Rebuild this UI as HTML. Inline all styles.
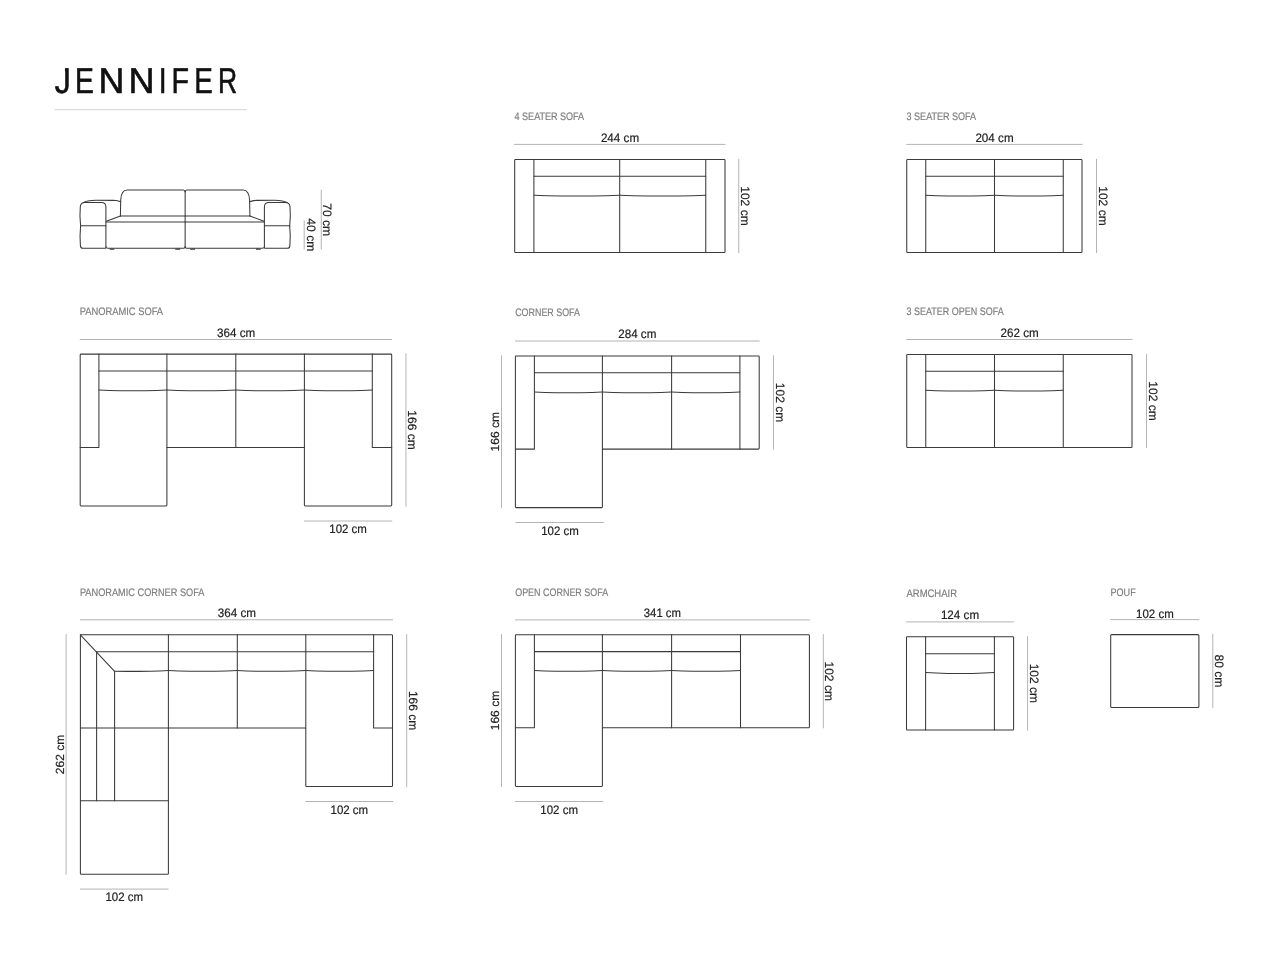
<!DOCTYPE html>
<html lang="en"><head><meta charset="utf-8"><title>JENNIFER</title>
<style>
html,body{margin:0;padding:0;background:#fff;}
body{width:1280px;height:960px;overflow:hidden;font-family:"Liberation Sans",sans-serif;}
svg{display:block;position:absolute;left:0;top:0;will-change:transform;}
.k{fill:none;stroke:#3a3a3a;stroke-width:1.05;stroke-linejoin:round;stroke-linecap:round;}
.g{fill:none;stroke:#b4b4b4;stroke-width:1;}
.u{fill:none;stroke:#dcdcdc;stroke-width:1.2;}
.ft{fill:#3a3a3a;stroke:none;}
text{font-family:"Liberation Sans",sans-serif;text-rendering:geometricPrecision;}
.ttl{font-size:36px;text-rendering:geometricPrecision;fill:#111;stroke:#111;stroke-width:0.6;}
.dm{font-size:12.3px;fill:#222;stroke:#222;stroke-width:0.2;}
.rt{font-size:12.2px;stroke-width:0.18;}
.lt{font-size:11.8px;stroke-width:0.2;}
.lb{font-size:10.9px;fill:#7e7e7e;stroke:#7e7e7e;stroke-width:0.2;}
</style></head><body>
<svg width="1280" height="960" viewBox="0 0 1280 960">
<text class="ttl" y="92.55" aria-label="JENNIFER"><tspan x="54.85" textLength="16.03" lengthAdjust="spacingAndGlyphs">J</tspan><tspan x="74.88" textLength="18.89" lengthAdjust="spacingAndGlyphs">E</tspan><tspan x="98.51" textLength="25.86" lengthAdjust="spacingAndGlyphs">N</tspan><tspan x="128.54" textLength="26.05" lengthAdjust="spacingAndGlyphs">N</tspan><tspan x="158.63" textLength="7.89" lengthAdjust="spacingAndGlyphs">I</tspan><tspan x="171.40" textLength="17.50" lengthAdjust="spacingAndGlyphs">F</tspan><tspan x="194.16" textLength="18.58" lengthAdjust="spacingAndGlyphs">E</tspan><tspan x="218.07" textLength="19.16" lengthAdjust="spacingAndGlyphs">R</tspan></text>
<path class="u" d="M54.60 109.60L246.80 109.60"/>
<rect x="55" y="64" width="9.95" height="9.2" fill="#fff"/>
<path class="k" d="M80.60 225.7 C80.00 220 79.90 211 80.30 206.6 Q80.80 202.5 84.60 202.5 L101.40 202.5 Q105.90 202.5 105.90 207.2 L105.90 247.6"/>
<path class="k" d="M80.60 225.7 C80.00 232 79.90 240 80.40 245.6 Q80.70 248.3 83.00 248.3 L105.50 248.3"/>
<path class="k" d="M80.60 225.70L105.90 225.70"/>
<path class="k" d="M83.20 202.7 Q86.50 200.5 96.00 200.35 L113.50 200.35 Q118.00 200.5 120.60 201.7"/>
<path class="k" d="M120.40 215.9 L120.70 200 Q121.20 190.0 127.20 190.0 L183.20 190.0 Q185.15 190.1 185.15 191.8"/>
<path class="k" d="M120.40 215.90L185.15 215.90"/>
<path class="k" d="M106.30 221.30L120.40 216.00"/>
<path class="k" d="M106.30 221.90L185.15 221.90"/>
<path class="k" d="M105.90 246.8 Q106.00 248.3 108.00 248.3 L183.60 248.3 Q185.15 248.3 185.15 246.8"/>
<rect class="ft" x="109.60" y="248.5" width="4.8" height="1.3" rx="0.5"/>
<rect class="ft" x="175.20" y="248.5" width="5" height="1.3" rx="0.5"/>
<path class="k" d="M289.70 225.7 C290.30 220 290.40 211 290.00 206.6 Q289.50 202.5 285.70 202.5 L268.90 202.5 Q264.40 202.5 264.40 207.2 L264.40 247.6"/>
<path class="k" d="M289.70 225.7 C290.30 232 290.40 240 289.90 245.6 Q289.60 248.3 287.30 248.3 L264.80 248.3"/>
<path class="k" d="M289.70 225.70L264.40 225.70"/>
<path class="k" d="M287.10 202.7 Q283.80 200.5 274.30 200.35 L256.80 200.35 Q252.30 200.5 249.70 201.7"/>
<path class="k" d="M249.90 215.9 L249.60 200 Q249.10 190.0 243.10 190.0 L187.10 190.0 Q185.15 190.1 185.15 191.8"/>
<path class="k" d="M249.90 215.90L185.15 215.90"/>
<path class="k" d="M264.00 221.30L249.90 216.00"/>
<path class="k" d="M264.00 221.90L185.15 221.90"/>
<path class="k" d="M264.40 246.8 Q264.30 248.3 262.30 248.3 L186.70 248.3 Q185.15 248.3 185.15 246.8"/>
<rect class="ft" x="255.90" y="248.5" width="4.8" height="1.3" rx="0.5"/>
<rect class="ft" x="190.10" y="248.5" width="5" height="1.3" rx="0.5"/>
<path class="k" d="M185.15 191.50L185.15 247.40"/>
<path class="g" d="M321.25 189.60L321.25 249.60"/>
<text class="dm rt" transform="translate(323.1 203.2) rotate(90)" textLength="33" lengthAdjust="spacingAndGlyphs">70 cm</text>
<path class="g" d="M304.20 220.40L304.20 249.60"/>
<text class="dm rt" transform="translate(306.8 218.3) rotate(90)" textLength="33.2" lengthAdjust="spacingAndGlyphs">40 cm</text>
<text class="lb" x="514.55" y="120.05" textLength="69.60" lengthAdjust="spacingAndGlyphs">4 SEATER SOFA</text>
<path class="g" d="M513.90 144.40L725.50 144.40"/>
<text class="dm" x="600.90" y="142.20" textLength="38.20" lengthAdjust="spacingAndGlyphs">244 cm</text>
<path class="k" d="M514.70 160.20Q514.70 159.40 515.50 159.40L724.20 159.40Q725.00 159.40 725.00 160.20L725.00 251.70Q725.00 252.50 724.20 252.50L515.50 252.50Q514.70 252.50 514.70 251.70Z"/>
<path class="k" d="M533.90 159.40L533.90 252.50"/>
<path class="k" d="M705.75 159.40L705.75 252.50"/>
<path class="k" d="M619.70 159.40L619.70 252.50"/>
<path class="k" d="M533.90 176.30L705.75 176.30"/>
<path class="k" d="M533.90 195.20C544.88 195.90 553.12 196.00 561.36 196.00L592.24 196.00C600.48 196.00 608.72 195.90 619.70 195.20"/>
<path class="k" d="M619.70 195.20C630.71 195.90 638.98 196.00 647.24 196.00L678.21 196.00C686.47 196.00 694.74 195.90 705.75 195.20"/>
<path class="g" d="M738.75 158.80L738.75 253.10"/>
<text class="dm rt" transform="translate(740.85 186.20) rotate(90)" textLength="39.50" lengthAdjust="spacingAndGlyphs">102 cm</text>
<text class="lb" x="906.55" y="120.05" textLength="69.60" lengthAdjust="spacingAndGlyphs">3 SEATER SOFA</text>
<path class="g" d="M906.35 144.40L1082.50 144.40"/>
<text class="dm" x="975.40" y="142.20" textLength="38.20" lengthAdjust="spacingAndGlyphs">204 cm</text>
<path class="k" d="M906.75 160.20Q906.75 159.40 907.55 159.40L1081.20 159.40Q1082.00 159.40 1082.00 160.20L1082.00 251.70Q1082.00 252.50 1081.20 252.50L907.55 252.50Q906.75 252.50 906.75 251.70Z"/>
<path class="k" d="M925.75 159.40L925.75 252.50"/>
<path class="k" d="M1063.25 159.40L1063.25 252.50"/>
<path class="k" d="M994.50 159.40L994.50 252.50"/>
<path class="k" d="M925.75 176.30L1063.25 176.30"/>
<path class="k" d="M925.75 195.20C934.55 195.90 941.15 196.00 947.75 196.00L972.50 196.00C979.10 196.00 985.70 195.90 994.50 195.20"/>
<path class="k" d="M994.50 195.20C1003.30 195.90 1009.90 196.00 1016.50 196.00L1041.25 196.00C1047.85 196.00 1054.45 195.90 1063.25 195.20"/>
<path class="g" d="M1096.50 158.80L1096.50 253.10"/>
<text class="dm rt" transform="translate(1098.60 186.20) rotate(90)" textLength="39.50" lengthAdjust="spacingAndGlyphs">102 cm</text>
<text class="lb" x="906.55" y="315.30" textLength="97.10" lengthAdjust="spacingAndGlyphs">3 SEATER OPEN SOFA</text>
<path class="g" d="M906.35 339.50L1132.50 339.50"/>
<text class="dm" x="1000.50" y="337.30" textLength="38.20" lengthAdjust="spacingAndGlyphs">262 cm</text>
<path class="k" d="M906.75 355.30Q906.75 354.50 907.55 354.50L1131.20 354.50Q1132.00 354.50 1132.00 355.30L1132.00 446.70Q1132.00 447.50 1131.20 447.50L907.55 447.50Q906.75 447.50 906.75 446.70Z"/>
<path class="k" d="M925.75 354.50L925.75 447.50"/>
<path class="k" d="M1063.25 354.50L1063.25 447.50"/>
<path class="k" d="M994.50 354.50L994.50 447.50"/>
<path class="k" d="M925.75 371.30L1063.25 371.30"/>
<path class="k" d="M925.75 390.20C934.55 390.90 941.15 391.00 947.75 391.00L972.50 391.00C979.10 391.00 985.70 390.90 994.50 390.20"/>
<path class="k" d="M994.50 390.20C1003.30 390.90 1009.90 391.00 1016.50 391.00L1041.25 391.00C1047.85 391.00 1054.45 390.90 1063.25 390.20"/>
<path class="g" d="M1146.50 353.90L1146.50 448.10"/>
<text class="dm rt" transform="translate(1148.60 381.25) rotate(90)" textLength="39.50" lengthAdjust="spacingAndGlyphs">102 cm</text>
<text class="lb" x="906.50" y="596.80" textLength="50.50" lengthAdjust="spacingAndGlyphs">ARMCHAIR</text>
<path class="g" d="M906.30 621.90L1014.00 621.90"/>
<text class="dm" x="940.90" y="619.10" textLength="38.20" lengthAdjust="spacingAndGlyphs">124 cm</text>
<path class="k" d="M906.50 637.60Q906.50 636.80 907.30 636.80L1012.80 636.80Q1013.60 636.80 1013.60 637.60L1013.60 729.20Q1013.60 730.00 1012.80 730.00L907.30 730.00Q906.50 730.00 906.50 729.20Z"/>
<path class="k" d="M925.60 636.80L925.60 730.00"/>
<path class="k" d="M994.40 636.80L994.40 730.00"/>
<path class="k" d="M925.60 653.65L994.40 653.65"/>
<path class="k" d="M925.60 672.60C934.41 673.30 941.01 673.40 947.62 673.40L972.38 673.40C978.99 673.40 985.59 673.30 994.40 672.60"/>
<path class="g" d="M1027.60 636.20L1027.60 730.60"/>
<text class="dm rt" transform="translate(1029.70 663.65) rotate(90)" textLength="39.50" lengthAdjust="spacingAndGlyphs">102 cm</text>
<text class="lb" x="1110.50" y="595.90" textLength="25.20" lengthAdjust="spacingAndGlyphs">POUF</text>
<path class="g" d="M1110.30 619.60L1199.40 619.60"/>
<text class="dm" x="1136.10" y="617.50" textLength="37.60" lengthAdjust="spacingAndGlyphs">102 cm</text>
<rect class="k" x="1110.7" y="634.6" width="88.2" height="72.9" rx="1"/>
<path class="g" d="M1212.80 633.80L1212.80 708.10"/>
<text class="dm rt" transform="translate(1214.90 654.45) rotate(90)" textLength="33.00" lengthAdjust="spacingAndGlyphs">80 cm</text>
<text class="lb" x="79.70" y="315.30" textLength="83.40" lengthAdjust="spacingAndGlyphs">PANORAMIC SOFA</text>
<path class="g" d="M79.80 339.50L392.10 339.50"/>
<text class="dm" x="217.10" y="336.70" textLength="38.20" lengthAdjust="spacingAndGlyphs">364 cm</text>
<path class="k" d="M80.20 354.90Q80.20 354.10 81.00 354.10L390.90 354.10Q391.70 354.10 391.70 354.90L391.70 505.10Q391.70 505.90 390.90 505.90L305.20 505.90Q304.40 505.90 304.40 505.10L304.40 447.40L166.90 447.40L166.90 505.10Q166.90 505.90 166.10 505.90L81.00 505.90Q80.20 505.90 80.20 505.10Z"/>
<path class="k" d="M98.9 354.1V447.4H80.2"/>
<path class="k" d="M372.3 354.1V447.4H391.7"/>
<path class="k" d="M166.90 354.10L166.90 447.40"/>
<path class="k" d="M235.80 354.10L235.80 447.40"/>
<path class="k" d="M304.40 354.10L304.40 447.40"/>
<path class="k" d="M98.90 371.00L372.30 371.00"/>
<path class="k" d="M98.90 390.00C107.60 390.70 114.13 390.80 120.66 390.80L145.14 390.80C151.67 390.80 158.20 390.70 166.90 390.00"/>
<path class="k" d="M166.90 390.00C175.72 390.70 182.33 390.80 188.95 390.80L213.75 390.80C220.37 390.80 226.98 390.70 235.80 390.00"/>
<path class="k" d="M235.80 390.00C244.58 390.70 251.17 390.80 257.75 390.80L282.45 390.80C289.03 390.80 295.62 390.70 304.40 390.00"/>
<path class="k" d="M304.40 390.00C313.09 390.70 319.61 390.80 326.13 390.80L350.57 390.80C357.09 390.80 363.61 390.70 372.30 390.00"/>
<path class="g" d="M405.95 353.50L405.95 506.50"/>
<text class="dm rt" transform="translate(408.05 410.25) rotate(90)" textLength="39.50" lengthAdjust="spacingAndGlyphs">166 cm</text>
<path class="g" d="M304.00 521.00L392.20 521.00"/>
<text class="dm" x="329.25" y="533.30" textLength="37.60" lengthAdjust="spacingAndGlyphs">102 cm</text>
<text class="lb" x="515.20" y="316.10" textLength="64.80" lengthAdjust="spacingAndGlyphs">CORNER SOFA</text>
<path class="g" d="M515.00 341.00L759.70 341.00"/>
<text class="dm" x="618.20" y="338.20" textLength="38.20" lengthAdjust="spacingAndGlyphs">284 cm</text>
<path class="k" d="M515.40 356.70Q515.40 355.90 516.20 355.90L758.40 355.90Q759.20 355.90 759.20 356.70L759.20 448.30Q759.20 449.10 758.40 449.10L602.40 449.10L602.40 506.80Q602.40 507.60 601.60 507.60L516.20 507.60Q515.40 507.60 515.40 506.80Z"/>
<path class="k" d="M534.4 355.9V449.1H515.4"/>
<path class="k" d="M739.90 355.90L739.90 449.10"/>
<path class="k" d="M602.40 355.90L602.40 449.10"/>
<path class="k" d="M671.60 355.90L671.60 449.10"/>
<path class="k" d="M534.40 372.80L739.90 372.80"/>
<path class="k" d="M534.40 391.90C543.10 392.60 549.63 392.70 556.16 392.70L580.64 392.70C587.17 392.70 593.70 392.60 602.40 391.90"/>
<path class="k" d="M602.40 391.90C611.26 392.60 617.90 392.70 624.54 392.70L649.46 392.70C656.10 392.70 662.74 392.60 671.60 391.90"/>
<path class="k" d="M671.60 391.90C680.34 392.60 686.90 392.70 693.46 392.70L718.04 392.70C724.60 392.70 731.16 392.60 739.90 391.90"/>
<path class="g" d="M501.50 355.30L501.50 508.20"/>
<text class="dm lt" transform="translate(499.20 451.50) rotate(-90)" textLength="39.50" lengthAdjust="spacingAndGlyphs">166 cm</text>
<path class="g" d="M773.45 355.30L773.45 449.70"/>
<text class="dm rt" transform="translate(775.55 382.75) rotate(90)" textLength="39.50" lengthAdjust="spacingAndGlyphs">102 cm</text>
<path class="g" d="M515.50 522.50L603.80 522.50"/>
<text class="dm" x="541.20" y="534.70" textLength="37.60" lengthAdjust="spacingAndGlyphs">102 cm</text>
<text class="lb" x="515.20" y="596.10" textLength="93.00" lengthAdjust="spacingAndGlyphs">OPEN CORNER SOFA</text>
<path class="g" d="M515.00 619.90L809.90 619.90"/>
<text class="dm" x="643.80" y="617.20" textLength="37.20" lengthAdjust="spacingAndGlyphs">341 cm</text>
<path class="k" d="M515.40 635.50Q515.40 634.70 516.20 634.70L808.60 634.70Q809.40 634.70 809.40 635.50L809.40 726.90Q809.40 727.70 808.60 727.70L602.40 727.70L602.40 785.60Q602.40 786.40 601.60 786.40L516.20 786.40Q515.40 786.40 515.40 785.60Z"/>
<path class="k" d="M534.4 634.7V727.7H515.4"/>
<path class="k" d="M602.40 634.70L602.40 727.70"/>
<path class="k" d="M671.60 634.70L671.60 727.70"/>
<path class="k" d="M740.50 634.70L740.50 727.70"/>
<path class="k" d="M534.40 651.60L740.50 651.60"/>
<path class="k" d="M534.40 670.50C543.10 671.20 549.63 671.30 556.16 671.30L580.64 671.30C587.17 671.30 593.70 671.20 602.40 670.50"/>
<path class="k" d="M602.40 670.50C611.26 671.20 617.90 671.30 624.54 671.30L649.46 671.30C656.10 671.30 662.74 671.20 671.60 670.50"/>
<path class="k" d="M671.60 670.50C680.42 671.20 687.03 671.30 693.65 671.30L718.45 671.30C725.07 671.30 731.68 671.20 740.50 670.50"/>
<path class="g" d="M501.50 634.10L501.50 787.00"/>
<text class="dm lt" transform="translate(499.20 730.30) rotate(-90)" textLength="39.50" lengthAdjust="spacingAndGlyphs">166 cm</text>
<path class="g" d="M823.30 634.10L823.30 728.30"/>
<text class="dm rt" transform="translate(825.40 661.45) rotate(90)" textLength="39.50" lengthAdjust="spacingAndGlyphs">102 cm</text>
<path class="g" d="M515.00 801.50L603.40 801.50"/>
<text class="dm" x="540.35" y="814.30" textLength="37.60" lengthAdjust="spacingAndGlyphs">102 cm</text>
<text class="lb" x="79.90" y="595.80" textLength="124.60" lengthAdjust="spacingAndGlyphs">PANORAMIC CORNER SOFA</text>
<path class="g" d="M80.00 619.80L393.00 619.80"/>
<text class="dm" x="217.80" y="617.40" textLength="38.20" lengthAdjust="spacingAndGlyphs">364 cm</text>
<path class="k" d="M80.40 634.80L391.70 634.80Q392.50 634.80 392.50 635.60L392.50 785.70Q392.50 786.50 391.70 786.50L306.60 786.50Q305.80 786.50 305.80 785.70L305.80 727.90L168.40 727.90L168.40 873.40Q168.40 874.20 167.60 874.20L81.20 874.20Q80.40 874.20 80.40 873.40Z"/>
<path class="k" d="M80.40 634.80L114.60 671.30"/>
<path class="k" d="M96.60 651.70L373.60 651.70"/>
<path class="k" d="M96.60 651.70L96.60 800.80"/>
<path class="k" d="M114.60 671.30L114.60 800.80"/>
<path class="k" d="M80.40 727.90L168.40 727.90"/>
<path class="k" d="M80.40 800.80L168.40 800.80"/>
<path class="k" d="M168.40 634.80L168.40 727.90"/>
<path class="k" d="M237.30 634.80L237.30 727.90"/>
<path class="k" d="M305.80 634.80L305.80 727.90"/>
<path class="k" d="M373.6 634.8V727.9H392.5"/>
<path class="k" d="M114.6 671.30C139.6 671.50 153.4 671.30 168.4 670.40"/>
<path class="k" d="M168.40 670.50C177.22 671.20 183.83 671.30 190.45 671.30L215.25 671.30C221.87 671.30 228.48 671.20 237.30 670.50"/>
<path class="k" d="M237.30 670.50C246.07 671.20 252.64 671.30 259.22 671.30L283.88 671.30C290.46 671.30 297.03 671.20 305.80 670.50"/>
<path class="k" d="M305.80 670.50C314.48 671.20 320.99 671.30 327.50 671.30L351.90 671.30C358.41 671.30 364.92 671.20 373.60 670.50"/>
<path class="g" d="M66.10 634.20L66.10 874.80"/>
<text class="dm lt" transform="translate(63.80 774.25) rotate(-90)" textLength="39.50" lengthAdjust="spacingAndGlyphs">262 cm</text>
<path class="g" d="M406.70 634.20L406.70 787.10"/>
<text class="dm rt" transform="translate(408.80 690.90) rotate(90)" textLength="39.50" lengthAdjust="spacingAndGlyphs">166 cm</text>
<path class="g" d="M305.40 801.50L393.30 801.50"/>
<text class="dm" x="330.50" y="814.30" textLength="37.60" lengthAdjust="spacingAndGlyphs">102 cm</text>
<path class="g" d="M80.00 889.10L168.50 889.10"/>
<text class="dm" x="105.40" y="901.05" textLength="37.60" lengthAdjust="spacingAndGlyphs">102 cm</text>
</svg>
</body></html>
